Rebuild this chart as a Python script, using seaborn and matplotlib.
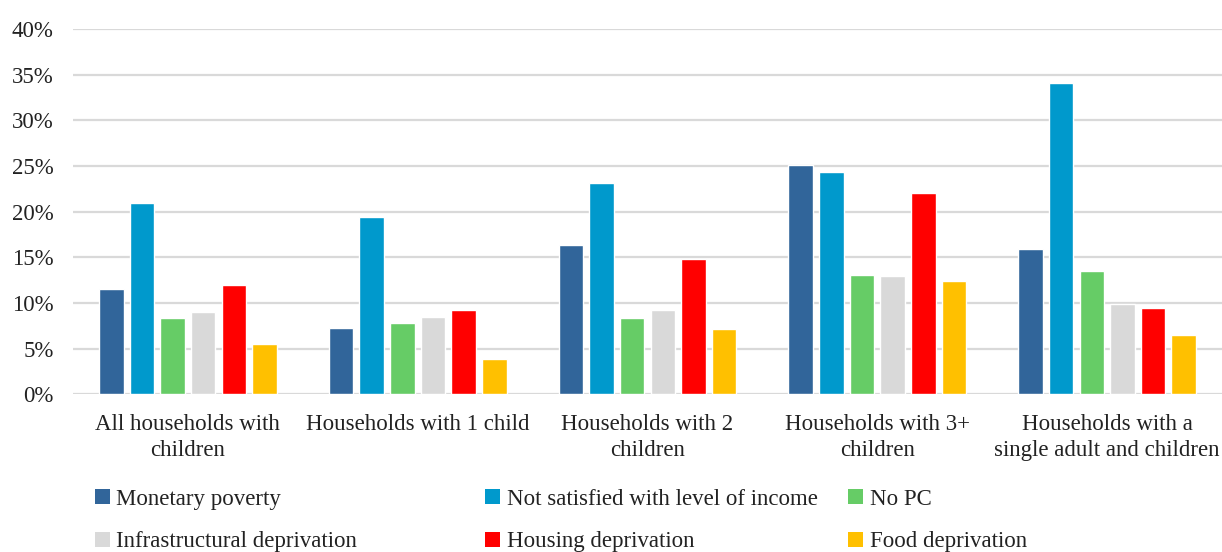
import matplotlib
matplotlib.use("Agg")
import matplotlib.pyplot as plt
from matplotlib.patches import Patch
from matplotlib.ticker import FuncFormatter, MultipleLocator
import pandas as pd
import seaborn as sns

categories = [
    "All households with\nchildren",
    "Households with 1 child",
    "Households with 2\nchildren",
    "Households with 3+\nchildren",
    "Households with a\nsingle adult and children",
]
series_names = [
    "Monetary poverty",
    "Not satisfied with level of income",
    "No PC",
    "Infrastructural deprivation",
    "Housing deprivation",
    "Food deprivation",
]
monetary_poverty = [11.5, 7.2, 16.3, 25.1, 15.9]
not_satisfied_income = [21.0, 19.4, 23.2, 24.3, 34.1]
no_pc = [8.4, 7.8, 8.3, 13.1, 13.5]
infrastructural_deprivation = [9.0, 8.5, 9.2, 13.0, 9.9]
housing_deprivation = [12.0, 9.2, 14.8, 22.0, 9.4]
food_deprivation = [5.5, 3.8, 7.1, 12.4, 6.5]

colors = ["#31659A", "#0099CC", "#66CC66", "#D9D9D9", "#FF0000", "#FFC000"]

series_values = [
    monetary_poverty,
    not_satisfied_income,
    no_pc,
    infrastructural_deprivation,
    housing_deprivation,
    food_deprivation,
]
rows = []
for name, vals in zip(series_names, series_values):
    for cat, v in zip(categories, vals):
        rows.append({"category": cat, "series": name, "value": v})
df = pd.DataFrame(rows)

sns.set_theme(style="white")
plt.rcParams["font.family"] = ["Liberation Serif", "DejaVu Serif"]

FS = 16.5
TXT = "#222222"

fig = plt.figure(figsize=(12.22, 5.52), dpi=100)
ax = fig.add_axes([0.0597, 0.286, 0.9403, 0.661])

sns.barplot(
    data=df, x="category", y="value", hue="series",
    order=categories, hue_order=series_names,
    palette=colors, width=0.8, gap=0.2, saturation=1,
    errorbar=None, legend=False, ax=ax,
)

ax.set_ylim(0, 40)
ax.set_xlim(-0.5, len(categories) - 0.5)
ax.yaxis.set_major_locator(MultipleLocator(5))
ax.yaxis.set_major_formatter(FuncFormatter(lambda v, p: f"{v:.0f}%"))
ax.grid(axis="y", color="#D9D9D9", linewidth=1.6)
ax.set_axisbelow(True)
for s in ax.spines.values():
    s.set_visible(False)
ax.tick_params(axis="both", length=0, labelsize=FS, colors=TXT)
ax.tick_params(axis="y", pad=14)
ax.tick_params(axis="x", pad=14)
for lbl in ax.get_xticklabels():
    lbl.set_linespacing(1.35)
ax.set_xlabel("")
ax.set_ylabel("")

# Legend in three fixed columns below the plot
col_x = [0.0775, 0.397, 0.694]
for j in range(3):
    handles = [
        Patch(facecolor=colors[j], edgecolor="none", label=series_names[j]),
        Patch(facecolor=colors[j + 3], edgecolor="none", label=series_names[j + 3]),
    ]
    fig.legend(
        handles=handles, loc="upper left", bbox_to_anchor=(col_x[j], 0.115),
        frameon=False, fontsize=FS, handlelength=0.65, handleheight=0.65,
        handletextpad=0.3, labelspacing=0.95, borderaxespad=0, borderpad=0,
        labelcolor=TXT,
    )

fig.savefig("out.png", dpi=100, facecolor="white")
